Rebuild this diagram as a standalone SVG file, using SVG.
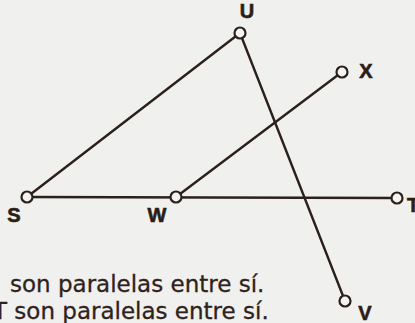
<svg xmlns="http://www.w3.org/2000/svg" width="415" height="323" viewBox="0 0 415 323">
<style>
.ln{stroke:#2b211c;stroke-width:2.4;fill:none;stroke-linecap:round}
.pt{fill:#f4f4f2;stroke:#2b211c;stroke-width:2.2}
.lb{font-family:"Liberation Sans",Arial,sans-serif;font-weight:bold;font-size:20px;fill:#2b1d17;stroke:#2b1d17;stroke-width:0.6;text-anchor:middle}
.tx{font-family:"DejaVu Sans",Verdana,sans-serif;font-size:23px;fill:#2e221c;stroke:#2e221c;stroke-width:0.3}
</style>
<rect width="415" height="323" fill="#f0f0ee"/>
<g id="connectors">
<line class="ln" x1="27" y1="197" x2="240" y2="33"/>
<line class="ln" x1="240" y1="33" x2="345" y2="301"/>
<line class="ln" x1="176" y1="197" x2="342" y2="72"/>
<line class="ln" x1="27" y1="197" x2="397" y2="198"/>
</g>
<g id="U"><circle class="pt" cx="240" cy="33" r="5.5"/><text class="lb" x="247" y="18">U</text></g>
<g id="X"><circle class="pt" cx="342" cy="72" r="5.5"/><text class="lb" x="366" y="78">X</text></g>
<g id="S"><circle class="pt" cx="27" cy="197" r="5.5"/><text class="lb" x="14" y="222">S</text></g>
<g id="W"><circle class="pt" cx="176" cy="197" r="5.5"/><text class="lb" x="157" y="222">W</text></g>
<g id="T"><circle class="pt" cx="397" cy="198" r="5.5"/><text class="lb" x="407" y="212" style="text-anchor:start">T</text></g>
<g id="V"><circle class="pt" cx="345" cy="301" r="5.5"/><text class="lb" x="365" y="320">V</text></g>
<g id="caption">
<text class="tx" x="10" y="292">son paralelas entre sí.</text>
<text class="tx" x="-7" y="319">T son paralelas entre sí.</text>
</g>
</svg>
